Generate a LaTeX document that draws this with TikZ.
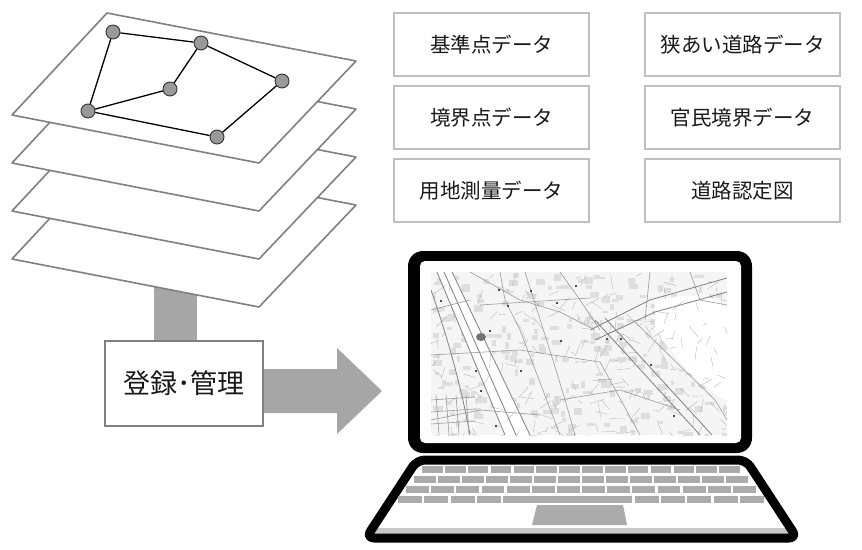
\documentclass[tikz,border=0pt]{standalone}
\usepackage{fontspec}
\newfontfamily\cjk{Noto Sans CJK JP}
\begin{document}
\begin{tikzpicture}[x=1pt,y=-1pt,
  layer/.style={draw=black!50,line width=1.6pt,fill=white,line join=round},
  vtx/.style={circle,draw=black!80,line width=0.9pt,fill=black!40,minimum size=14pt,inner sep=0pt},
  edge/.style={draw=black,line width=1.3pt},
  databox/.style={draw=black!25,line width=1.2pt,fill=white,minimum width=195pt,minimum height=63pt,
    font=\cjk\fontsize{20.5}{22}\selectfont,text=black!90},
  regbox/.style={draw=black!50,line width=2pt,fill=white,minimum width=158pt,minimum height=85pt,
    font=\cjk\fontsize{27}{29}\selectfont,text=black!90},
  flow/.style={fill=black!35},
  road/.style={draw=black!40,line width=0.6pt},
  bigroad/.style={draw=black!50,line width=0.8pt},
  key/.style={fill=black!33}]
\useasboundingbox (0,0) rectangle (862,549);
\fill[white] (0,0) rectangle (862,549);

% connecting bar beneath the layer stack
\fill[flow] (154,285) rectangle (197,342);

% stacked data layers, bottom first
\foreach \k in {3,2,1,0}{
  \draw[layer] (107,13+48*\k) -- (356,61+48*\k) -- (259,163+48*\k) -- (12,115+48*\k) -- cycle;
}

% network on the top layer
\node[vtx] (n1) at (113,32) {};
\node[vtx] (n2) at (201,43) {};
\node[vtx] (n3) at (282,81) {};
\node[vtx] (n4) at (170,89) {};
\node[vtx] (n5) at (88,111) {};
\node[vtx] (n6) at (217,137) {};
\draw[edge] (n1) -- (n2);
\draw[edge] (n2) -- (n3);
\draw[edge] (n3) -- (n6);
\draw[edge] (n6) -- (n5);
\draw[edge] (n5) -- (n1);
\draw[edge] (n5) -- (n4);
\draw[edge] (n4) -- (n2);

% registration box and arrow
\node[regbox] (reg) at (184,383.5) {登録･管理};
\fill[flow] (reg.east |- 0,369) -- (337,369) -- (337,348) -- (382,391) -- (337,434) -- (337,413) -- (reg.east |- 0,413) -- cycle;

% data categories
\node[databox] (d1) at (491.5,44.5) {基準点データ};
\node[databox] (d2) at (491.5,117.5) {境界点データ};
\node[databox] (d3) at (491.5,190.5) {用地測量データ};
\node[databox] (d4) at (742.5,44.5) {狭あい道路データ};
\node[databox] (d5) at (742.5,117.5) {官民境界データ};
\node[databox] (d6) at (742.5,190.5) {道路認定図};

% laptop screen
\fill[black] (408,251) [rounded corners=15pt] rectangle (752,453);
\fill[white] (420,261) [rounded corners=5pt] rectangle (741,443);

% street map on screen
\begin{scope}
\clip (431,272) rectangle (727,435);
\fill[black!4] (431,272) rectangle (727,435);
\pgfmathsetseed{42}
\foreach \i in {1,...,260}{
  \pgfmathsetmacro\bx{431+rnd*296}
  \pgfmathsetmacro\by{272+rnd*163}
  \pgfmathsetmacro\bw{3+rnd*7}
  \pgfmathsetmacro\bh{2+rnd*5}
  \fill[black!13] (\bx,\by) rectangle ++(\bw,\bh);
}
\fill[white] (655,300) .. controls (700,290) and (727,300) .. (727,310) -- (727,400) .. controls (700,390) and (670,350) .. (655,330) -- cycle;
\fill[white] (437,272) -- (452,272) -- (530,435) -- (505,435) -- cycle;
\foreach \i in {1,...,200}{
  \pgfmathsetmacro\ax{431+rnd*296}
  \pgfmathsetmacro\ay{272+rnd*163}
  \pgfmathsetmacro\ang{rnd*180}
  \pgfmathsetmacro\len{4+rnd*12}
  \draw[draw=black!28,line width=0.4pt] (\ax,\ay) -- ++(\ang:\len);
}
% main roads and rail lines
\draw[bigroad] (437,272) -- (505,435);
\draw[bigroad] (444,272) -- (516,435);
\draw[bigroad] (452,272) -- (530,435);
\draw[bigroad] (431,290) .. controls (445,330) and (460,380) .. (470,435);
\draw[road] (470,272) -- (520,300) -- (560,312) -- (595,330);
\draw[road] (525,272) .. controls (540,320) and (560,380) .. (575,435);
\draw[road] (560,272) -- (580,300) -- (600,330);
\draw[road] (480,305) -- (590,298);
\draw[road] (431,355) -- (520,350) -- (600,362);
\draw[road] (500,272) -- (505,300) -- (520,330) -- (560,435);
\draw[road] (650,272) -- (645,320);
\draw[road] (690,272) -- (700,300) -- (727,305);
\draw[bigroad] (590,330) -- (650,300) -- (727,278);
\draw[bigroad] (595,340) -- (655,312) -- (727,292);
\draw[bigroad] (595,320) -- (700,435);
\draw[bigroad] (605,318) -- (712,435);
\draw[road] (633,320) -- (715,400) -- (727,420);
\draw[road] (600,362) -- (640,435);
\draw[road] (431,310) -- (470,300);
\draw[road] (560,400) -- (620,390) -- (680,410);
\draw[road] (431,420) -- (480,410) -- (540,415);
\foreach \gx in {436,446,456,466}{\draw[road] (\gx,395) -- (\gx+3,435);}
\foreach \gy in {400,412,424}{\draw[road] (431,\gy) -- (475,\gy-3);}
% place markers
\foreach \p in {(498,289),(507,305),(440,300),(489,330),(560,340),(606,338),(620,338),(650,364),(673,415),(475,370),(520,370),(480,390),(495,425),(530,290),(556,302),(575,285)}{
  \fill[black!70] \p rectangle ++(2,2);
}
\fill[black!55] (481,337) ellipse (5pt and 4pt);
\end{scope}

% laptop base
\fill[white] (417,460) [rounded corners=6pt] -- (746,460) -- (797,538) -- (366,538) -- cycle;
\fill[black!22] (373,528) -- (790,528) -- (796,537) -- (367,537) -- cycle;
\draw[black,line width=9pt,rounded corners=8pt,line join=round] (417,460) -- (746,460) -- (797,538) -- (366,538) -- cycle;

% keyboard rows
\foreach \r in {0,1,2,3}{
  \pgfmathsetmacro\yt{466+10*\r}
  \pgfmathsetmacro\hw{160+8*\r}
  \pgfmathsetmacro\kw{2*\hw/14}
  \ifnum\r<3
    \foreach \c in {0,...,13}{
      \fill[key] (581-\hw+\c*\kw+1.2,\yt) rectangle ++(\kw-2.4,7);
    }
  \else
    \foreach \c in {0,1,2,3,9,10,11,12,13}{
      \fill[key] (581-\hw+\c*\kw+1.2,\yt) rectangle ++(\kw-2.4,7);
    }
    \fill[key] (581-\hw+4*\kw+1.2,\yt) rectangle ++(5*\kw-2.4,7);
  \fi
}
% touchpad
\fill[key] (537,505) -- (623,505) -- (627,525) -- (532,525) -- cycle;
\end{tikzpicture}
\end{document}
